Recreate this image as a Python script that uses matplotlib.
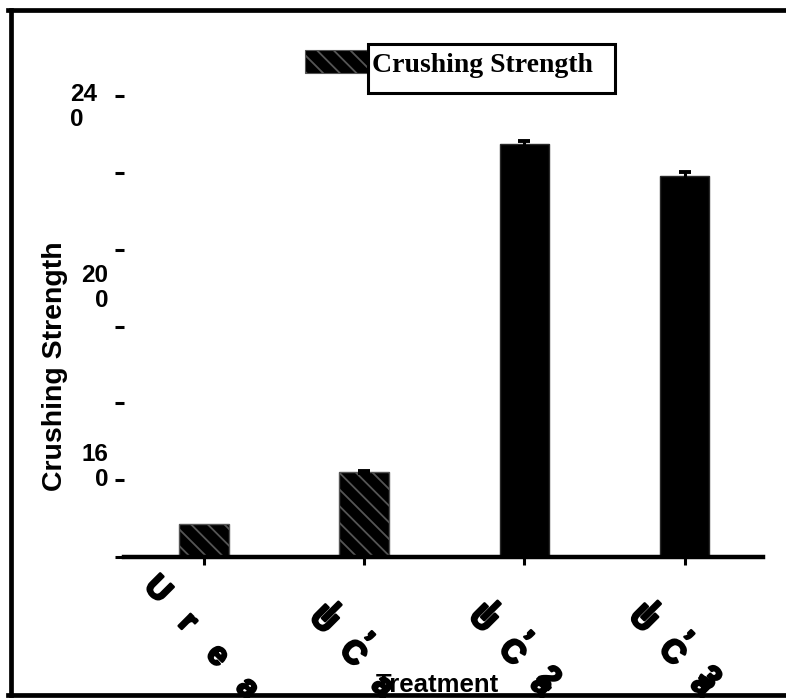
import matplotlib
matplotlib.use("Agg")
import matplotlib.pyplot as plt
from matplotlib.patches import Rectangle
from matplotlib.lines import Line2D
from matplotlib import transforms
import matplotlib.patheffects as pe

# ---- data ----
treatments = ["Urea", "UlC'a", "UlC'a2", "UlC'a3"]
crushing_strength = [150.9, 161.7, 230.0, 223.4]
strength_err = [0.0, 0.2, 0.6, 0.8]
hatched = [True, True, False, False]
y_tick_values = [144, 160, 176, 192, 208, 224, 240]
y_label_values = [240, 200, 160]
y_label_texts = ["24\n0", "20\n0", "16\n0"]
# glyph groups of each category label, laid out down a diagonal
label_glyphs = [["U", "r", "e", "a"],
                ["Ul", "C'", "a"],
                ["Ul", "C'", "a2"],
                ["Ul", "C'", "a3"]]
legend_label = "Crushing Strength"
x_title = "Treatment"
y_title = "Crushing Strength"

W, H = 786, 698
SANS = ["Liberation Sans", "DejaVu Sans"]
SERIF = ["Liberation Serif", "DejaVu Serif"]
plt.rcParams["hatch.linewidth"] = 1.3


def fx(x):
    return x / W


def fy(y):
    return 1 - y / H


fig = plt.figure(figsize=(W / 100, H / 100), dpi=100)
ax = fig.add_axes([fx(124), fy(557), (763 - 124) / W, (557 - 96) / H])

xpos = list(range(len(treatments)))
for i, (x, v, e, h) in enumerate(zip(xpos, crushing_strength, strength_err, hatched)):
    ax.bar(x, v - 144, bottom=144, width=0.31, color="black",
           edgecolor="#555555" if h else "#2a2a2a", linewidth=1.0,
           hatch="\\\\" if h else None, zorder=2)
    if e > 0:
        ax.errorbar(x, v, yerr=e, fmt="none", ecolor="black",
                    elinewidth=2.2, capsize=4.5, capthick=2.8, zorder=3)

ax.set_xlim(-0.5, 3.49)
ax.set_ylim(144, 240)

for s in ["top", "right", "left"]:
    ax.spines[s].set_visible(False)
ax.spines["bottom"].set_linewidth(3.2)
ax.spines["bottom"].set_zorder(4)

ax.set_yticks(y_tick_values)
ax.set_yticklabels([])
ax.tick_params(axis="y", length=6.5, width=2.2, direction="out", pad=2)
ax.set_xticks(xpos)
ax.set_xticklabels([])
ax.tick_params(axis="x", length=5.5, width=2.2, direction="out")

# y tick labels (wrapped numbers)
label_shift = [(-54, -11, "left"), (-16, 0, "right"), (-16, 13, "right")]
ytrans = transforms.blended_transform_factory(ax.transAxes, ax.transData)
for v, t, (dx, dy, ha) in zip(y_label_values, y_label_texts, label_shift):
    tr = transforms.offset_copy(ytrans, fig=fig, x=dx, y=dy, units="dots")
    ax.text(0, v, t, transform=tr, ha=ha, va="center", fontsize=17.5,
            fontweight="bold", family=SANS, linespacing=1.1, clip_on=False)

# diagonal category labels
heavy = [pe.withStroke(linewidth=1.8, foreground="black")]
xtrans = transforms.blended_transform_factory(ax.transData, ax.transAxes)
starts = [(-47, 33), (-42, 64), (-43, 63), (-43, 63)]
for x, glyphs, (sx, sy) in zip(xpos, label_glyphs, starts):
    for k, g in enumerate(glyphs):
        cx = sx + 30 * k
        cy = sy + 33 * k
        for j, ch in enumerate(g):
            if ch == "'":
                ox, oy, ch, fs = 11, -11, "\u2019", 24
            else:
                ox, oy, fs = 7 * j, -7 * j, 23
            tr = transforms.offset_copy(xtrans, fig=fig, x=cx + ox,
                                        y=-(cy + oy), units="dots")
            ax.text(x, 0, ch, transform=tr, rotation=-45, ha="center",
                    va="center", fontsize=fs, fontweight="bold", family=SANS,
                    clip_on=False, path_effects=heavy)

# axis titles
fig.text(fx(437), fy(692), x_title, ha="center", va="baseline",
         fontsize=18.5, fontweight="bold", family=SANS)
fig.text(fx(55), fy(366), y_title, rotation=90, ha="center", va="center",
         fontsize=20.5, fontweight="bold", family=SANS)

# legend: hatched swatch next to a boxed label
fig.patches.append(Rectangle((fx(305), fy(73)), (368 - 305) / W, (73 - 50) / H,
                             transform=fig.transFigure, facecolor="black",
                             edgecolor="#555555", hatch="\\\\", linewidth=0.8))
fig.patches.append(Rectangle((fx(368), fy(93)), (615 - 368) / W, (93 - 44) / H,
                             transform=fig.transFigure, facecolor="white",
                             edgecolor="black", linewidth=2.2))
fig.text(fx(372), fy(72), legend_label, ha="left", va="baseline",
         fontsize=20, fontweight="bold", family=SERIF)

# frame around the figure
for xs, ys in [([fx(10.5), fx(10.5)], [fy(9.5), fy(695)]),
               ([fx(8), 1.0], [fy(9.5), fy(9.5)]),
               ([fx(8), 1.0], [fy(695), fy(695)])]:
    fig.add_artist(Line2D(xs, ys, transform=fig.transFigure, color="black",
                          linewidth=3.4))

fig.savefig("out.png", dpi=100)
